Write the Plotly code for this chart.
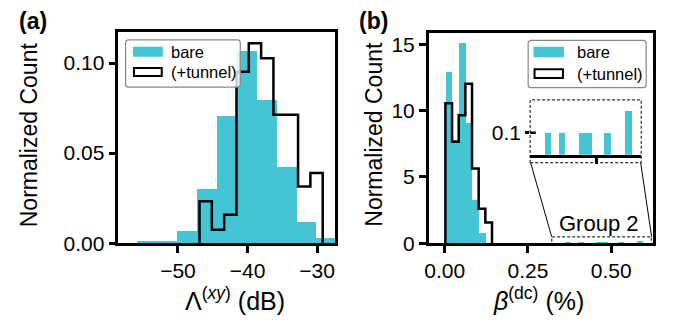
import plotly.graph_objects as go

# ---------------- data ----------------
# panel (a): Lambda^(xy) histogram, dB
a_bare_edges = [-55.8, -52.94, -50.08, -47.22, -44.36, -41.5, -38.64, -35.78, -32.92, -30.06, -27.2]
a_bare_heights = [0.0011, 0.0011, 0.0063, 0.0301, 0.0704, 0.1063, 0.079, 0.0418, 0.0113, 0.0027]
a_tun_edges = [-46.9, -45.13, -43.36, -41.59, -39.82, -38.05, -36.28, -34.51, -32.74, -30.97, -29.2]
a_tun_heights = [0.0233, 0.0074, 0.0158, 0.0952, 0.111, 0.1027, 0.0713, 0.0713, 0.0315, 0.039]

# panel (b): beta^(dc) histogram, %
b_bare_edges = [0.002, 0.022, 0.042, 0.062, 0.082, 0.102, 0.122]
b_bare_heights = [12.87, 7.8, 15.05, 9.03, 3.28, 0.8]
b_tun_edges = [0.002, 0.022, 0.042, 0.062, 0.082, 0.102, 0.122, 0.142]
b_tun_heights = [10.56, 7.65, 9.64, 12.02, 5.64, 2.6, 1.58]
# Group 2 (outliers of bare), shown in inset
g2_centers = [0.370, 0.408, 0.462, 0.480, 0.530, 0.586]
g2_heights = [0.1, 0.1, 0.1, 0.1, 0.1, 0.2]
g2_width = 0.0182

a_xticks = [-50, -40, -30]
a_xticklabels = ["\u221250", "\u221240", "\u221230"]
a_yticks = [0, 0.05, 0.10]
a_yticklabels = ["0.00", "0.05", "0.10"]
b_xticks = [0, 0.25, 0.5]
b_xticklabels = ["0.00", "0.25", "0.50"]
b_yticks = [0, 5, 10, 15]
inset_yticks = [0.1]
inset_xticks = [0.5]

BLUE = "#45c4d3"
W, H = 673, 333
FONT = "Liberation Sans, Arial, Helvetica, sans-serif"


def X(px):
    return px / W


def Y(py):
    return 1 - py / H


def centers(edges):
    return [(edges[i] + edges[i + 1]) / 2 for i in range(len(edges) - 1)]


def widths(edges):
    return [edges[i + 1] - edges[i] for i in range(len(edges) - 1)]


def step(edges, heights):
    xs, ys = [edges[0]], [0]
    for i, h in enumerate(heights):
        xs += [edges[i], edges[i + 1]]
        ys += [h, h]
    xs.append(edges[-1])
    ys.append(0)
    return xs, ys


fig = go.Figure()

# panel (a)
fig.add_trace(go.Bar(x=centers(a_bare_edges), y=a_bare_heights, width=widths(a_bare_edges),
                     marker=dict(color=BLUE, line=dict(width=0)), xaxis="x", yaxis="y",
                     showlegend=False))
sx, sy = step(a_tun_edges, a_tun_heights)
fig.add_trace(go.Scatter(x=sx, y=sy, mode="lines", line=dict(color="black", width=2.5),
                         xaxis="x", yaxis="y", showlegend=False))

# panel (b)
fig.add_trace(go.Bar(x=centers(b_bare_edges), y=b_bare_heights, width=widths(b_bare_edges),
                     marker=dict(color=BLUE, line=dict(width=0)), xaxis="x2", yaxis="y2",
                     showlegend=False))
fig.add_trace(go.Bar(x=g2_centers, y=g2_heights, width=g2_width,
                     marker=dict(color=BLUE, line=dict(width=0)), xaxis="x2", yaxis="y2",
                     showlegend=False))
sx, sy = step(b_tun_edges, b_tun_heights)
fig.add_trace(go.Scatter(x=sx, y=sy, mode="lines", line=dict(color="black", width=2.5),
                         xaxis="x2", yaxis="y2", showlegend=False))

# inset
fig.add_trace(go.Bar(x=g2_centers, y=g2_heights, width=g2_width,
                     marker=dict(color=BLUE, line=dict(width=0)), xaxis="x3", yaxis="y3",
                     showlegend=False))

axcommon = dict(showline=True, linewidth=2.5, linecolor="black", mirror=True,
                ticks="outside", ticklen=7, tickwidth=2.5, tickcolor="black",
                showgrid=False, zeroline=False,
                tickfont=dict(family=FONT, size=21, color="black"))

fig.update_layout(
    width=W, height=H, autosize=False,
    margin=dict(l=0, r=0, t=0, b=0),
    paper_bgcolor="white", plot_bgcolor="rgba(0,0,0,0)",
    barmode="overlay", bargap=0,
    font=dict(family=FONT, color="black"),
    xaxis=dict(domain=[X(115), X(333)], range=[-58.57, -27.43], tickvals=a_xticks,
               ticktext=a_xticklabels, anchor="y", **axcommon),
    yaxis=dict(domain=[Y(251.5), Y(33.5)], range=[0, 0.117], tickvals=a_yticks,
               ticktext=a_yticklabels, anchor="x", **axcommon),
    xaxis2=dict(domain=[X(427.3), X(653.3)], range=[-0.048, 0.627], tickvals=b_xticks,
                ticktext=b_xticklabels, anchor="y2", **axcommon),
    yaxis2=dict(domain=[Y(251.7), Y(34.3)], range=[0, 15.83], tickvals=b_yticks,
                anchor="x2", **axcommon),
    xaxis3=dict(domain=[X(529.3), X(641)], range=[0.3217, 0.6204], anchor="y3",
                showline=True, linewidth=2.5, linecolor="black", mirror=False,
                ticks="outside", ticklen=7, tickwidth=2.5, tickcolor="black",
                tickvals=inset_xticks, showticklabels=False, showgrid=False, zeroline=False),
    yaxis3=dict(domain=[Y(160), Y(103.3)], range=[0, 0.25], anchor="x3",
                showline=False, ticks="outside", ticklen=4, tickwidth=2.5, tickcolor="black",
                tickvals=inset_yticks, ticktext=["0.1"], showgrid=False, zeroline=False,
                tickfont=dict(family=FONT, size=21, color="black")),
)

shapes = []


def rrect(x0, y0, x1, y1, r=3):
    return (f"M {X(x0 + r)},{Y(y0)} L {X(x1 - r)},{Y(y0)} Q {X(x1)},{Y(y0)} {X(x1)},{Y(y0 + r)} "
            f"L {X(x1)},{Y(y1 - r)} Q {X(x1)},{Y(y1)} {X(x1 - r)},{Y(y1)} "
            f"L {X(x0 + r)},{Y(y1)} Q {X(x0)},{Y(y1)} {X(x0)},{Y(y1 - r)} "
            f"L {X(x0)},{Y(y0 + r)} Q {X(x0)},{Y(y0)} {X(x0 + r)},{Y(y0)} Z")


annots = []


def legend(bx0, by0, bx1, by1, px0, px1, p1, p2, tx):
    shapes.append(dict(type="path", xref="paper", yref="paper", path=rrect(bx0, by0, bx1, by1),
                       fillcolor="rgba(255,255,255,0.8)", line=dict(color="#888888", width=1.2)))
    shapes.append(dict(type="rect", xref="paper", yref="paper", x0=X(px0), x1=X(px1),
                       y0=Y(p1[1]), y1=Y(p1[0]), fillcolor=BLUE, line=dict(width=0)))
    shapes.append(dict(type="rect", xref="paper", yref="paper", x0=X(px0 + 1), x1=X(px1 - 1),
                       y0=Y(p2[1] - 1), y1=Y(p2[0] + 1), fillcolor="white",
                       line=dict(color="black", width=2)))
    for txt, yc in (("bare", (p1[0] + p1[1]) / 2), ("(+tunnel)", (p2[0] + p2[1]) / 2)):
        annots.append(dict(text=txt, xref="paper", yref="paper", x=X(tx), y=Y(yc),
                           xanchor="left", yanchor="middle", showarrow=False,
                           font=dict(family=FONT, size=16.5, color="black")))


legend(122.3, 41.3, 237.7, 90, 129.7, 159.7, (48.3, 58.7), (69.3, 79.5), 166)
legend(527.3, 41.7, 646, 90.7, 532.7, 563.3, (48.3, 59.3), (70.7, 81.7), 574.5)

# inset framing
dash = "3px,2px"
shapes.append(dict(type="rect", xref="paper", yref="paper", x0=X(529.3), x1=X(641),
                   y0=Y(168.3), y1=Y(103.3), line=dict(color="black", width=1, dash=dash)))
shapes.append(dict(type="rect", xref="x2", yref="y2", x0=0.3217, x1=0.6204,
                   y0=-0.6, y1=0.49, line=dict(color="black", width=1, dash=dash)))
shapes.append(dict(type="line", xref="paper", yref="paper", x0=X(529.8), y0=Y(168.3),
                   x1=X(551), y1=Y(245), line=dict(color="black", width=1)))
shapes.append(dict(type="line", xref="paper", yref="paper", x0=X(640.5), y0=Y(168.3),
                   x1=X(651.5), y1=Y(245), line=dict(color="black", width=1)))
# inner part of inset y tick
shapes.append(dict(type="line", xref="paper", yref="y3", x0=X(529.3), x1=X(535),
                   y0=0.1, y1=0.1, line=dict(color="black", width=2.5)))

annots.append(dict(text="Group 2", xref="paper", yref="paper", x=X(599), y=Y(231),
                   xanchor="center", yanchor="middle", showarrow=False,
                   font=dict(family=FONT, size=22, color="black")))

# axis titles
for xc in (26, 372.5):
    annots.append(dict(text="Normalized Count", xref="paper", yref="paper", x=X(xc), y=Y(139),
                       xanchor="center", yanchor="middle", textangle=-90, showarrow=False,
                       font=dict(family=FONT, size=23, color="black")))
annots.append(dict(text="\u039b<sup>(<i>xy</i>)</sup> (dB)", xref="paper", yref="paper",
                   x=X(232), y=Y(309), xanchor="center", yanchor="middle", showarrow=False,
                   font=dict(family=FONT, size=25, color="black")))
annots.append(dict(text="<i>\u03b2</i><sup>(dc)</sup> (%)", xref="paper", yref="paper",
                   x=X(537.5), y=Y(309), xanchor="center", yanchor="middle", showarrow=False,
                   font=dict(family=FONT, size=25, color="black")))
# panel labels
annots.append(dict(text="<b>(a)</b>", xref="paper", yref="paper", x=X(29), y=Y(22),
                   xanchor="center", yanchor="middle", showarrow=False,
                   font=dict(family=FONT, size=23, color="black")))
annots.append(dict(text="<b>(b)</b>", xref="paper", yref="paper", x=X(372), y=Y(22),
                   xanchor="center", yanchor="middle", showarrow=False,
                   font=dict(family=FONT, size=23, color="black")))

fig.update_layout(shapes=shapes, annotations=annots)
fig.write_html("out.html", config={"displayModeBar": False},
               post_script="document.body.style.margin='0px';")
